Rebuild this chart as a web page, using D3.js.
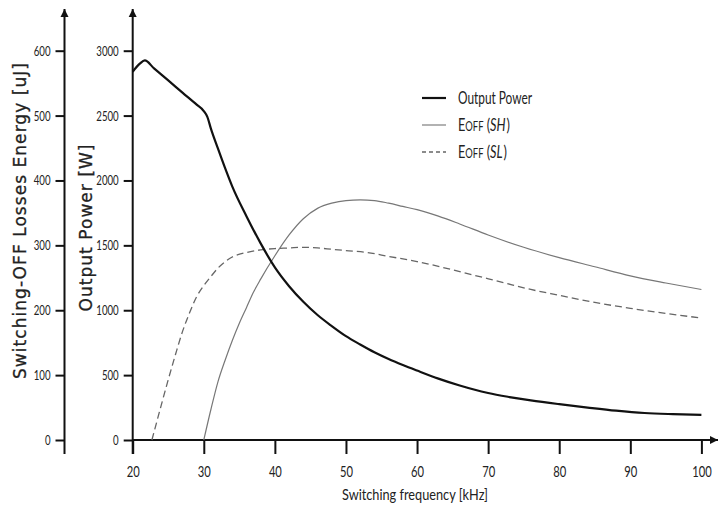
<!DOCTYPE html>
<html>
<head>
<meta charset="utf-8">
<script src="https://cdn.jsdelivr.net/npm/d3@7"></script>
<style>
  body { margin: 0; background: #fff; }
  .tick text { font-family: Lato, "Open Sans", sans-serif; fill: #222; }
  .tick line { stroke: #111; stroke-width: 2; }
</style>
</head>
<body>
<script>
// Switching frequency [kHz] samples and the curves
const powerFreq = [20, 21, 21.7, 23, 25, 27, 29, 30, 30.5, 31, 32, 33, 34, 36, 38, 40, 42, 44, 46, 48, 50, 52, 54, 56, 58, 60, 63, 66, 68, 70, 73, 76, 80, 84, 88, 92, 96, 100];
const powerW = [2838, 2900, 2925, 2864, 2771, 2677, 2584, 2535, 2490, 2400, 2245, 2095, 1955, 1725, 1515, 1330, 1185, 1065, 963, 878, 800, 736, 676, 624, 578, 535, 473, 420, 389, 362, 331, 305, 276, 250, 226, 208, 199, 193];

const shFreq = [30, 31, 32, 33, 34, 35, 36, 37, 38, 40, 42, 44, 46, 48, 50, 52, 54, 56, 58, 60, 63, 66, 70, 75, 80, 85, 90, 95, 100];
const shEnergy = [0, 47, 90, 123, 153, 180, 204, 228, 248, 284, 316, 341, 357, 365, 369, 370, 369, 365, 360, 355, 345, 333, 316, 297, 281, 267, 253, 242, 232];

const slFreq = [22.7, 24, 25, 26, 27, 28, 29, 30, 31, 32, 34, 36, 38, 40, 42, 44, 46, 48, 50, 53, 56, 60, 64, 68, 72, 76, 80, 85, 90, 95, 100];
const slEnergy = [0, 53, 93, 131, 167, 196, 221, 238, 252, 265, 282, 289, 293, 295, 296, 297, 296, 294, 292, 289, 283, 275, 265, 254, 243, 232, 223, 212, 203, 195, 188];

const freqTicks = [20, 30, 40, 50, 60, 70, 80, 90, 100];
const powerTicks = [0, 500, 1000, 1500, 2000, 2500, 3000];
const energyTicks = [0, 100, 200, 300, 400, 500, 600];

const width = 718;
const height = 508;
const axisX = { energy: 64.5, power: 132.7 };
const baseY = 440;

const x = d3.scaleLinear().domain([20, 100]).range([132.7, 701.4]);
const yPower = d3.scaleLinear().domain([0, 3000]).range([baseY, 50.7]);
const yEnergy = d3.scaleLinear().domain([0, 600]).range([baseY, 50.7]);

const svg = d3.select('body')
  .append('svg')
  .attr('width', width)
  .attr('height', height);

// arrow heads
svg.append('defs').append('marker')
  .attr('id', 'arrow')
  .attr('viewBox', '0 0 10 10')
  .attr('refX', 10)
  .attr('refY', 5)
  .attr('markerWidth', 8)
  .attr('markerHeight', 14)
  .attr('markerUnits', 'userSpaceOnUse')
  .attr('orient', 'auto')
  .append('path')
  .attr('d', 'M0,0 L10,5 L0,10 Z')
  .attr('fill', '#111');

// squeeze the labels to the narrow look of the original
function narrow(sel, perChar) {
  sel.each(function() {
    const t = d3.select(this);
    t.attr('textLength', t.text().length * perChar).attr('lengthAdjust', 'spacingAndGlyphs');
  });
}

// Energy axis (far left)
const energyAxis = svg.append('g')
  .attr('transform', 'translate(' + axisX.energy + ',0)')
  .call(d3.axisLeft(yEnergy).tickValues(energyTicks).tickFormat(d3.format('d')).tickSize(9).tickPadding(5));
energyAxis.select('.domain').remove();
energyAxis.selectAll('.tick text').attr('font-size', 14).call(narrow, 5.6);

svg.append('line')
  .attr('x1', axisX.energy).attr('x2', axisX.energy)
  .attr('y1', 454).attr('y2', 9)
  .attr('stroke', '#111').attr('stroke-width', 2)
  .attr('marker-end', 'url(#arrow)');

// Power axis
const powerAxis = svg.append('g')
  .attr('transform', 'translate(' + axisX.power + ',0)')
  .call(d3.axisLeft(yPower).tickValues(powerTicks).tickFormat(d3.format('d')).tickSize(9).tickPadding(5));
powerAxis.select('.domain').remove();
powerAxis.selectAll('.tick text').attr('font-size', 14).call(narrow, 5.6);

svg.append('line')
  .attr('x1', axisX.power).attr('x2', axisX.power)
  .attr('y1', 454).attr('y2', 9)
  .attr('stroke', '#111').attr('stroke-width', 2)
  .attr('marker-end', 'url(#arrow)');

// Frequency axis
const freqAxis = svg.append('g')
  .attr('transform', 'translate(0,' + baseY + ')')
  .call(d3.axisBottom(x).tickValues(freqTicks).tickSize(14));
freqAxis.select('.domain').remove();
freqAxis.selectAll('.tick text')
  .attr('font-size', 15)
  .attr('y', 37)
  .attr('dy', 0)
  .call(narrow, 6.5);

svg.append('line')
  .attr('x1', axisX.power).attr('x2', 718)
  .attr('y1', baseY).attr('y2', baseY)
  .attr('stroke', '#111').attr('stroke-width', 2.2)
  .attr('marker-end', 'url(#arrow)');

// Axis titles
svg.append('text')
  .attr('transform', 'translate(26,221) rotate(-90)')
  .attr('text-anchor', 'middle')
  .attr('font-family', 'DejaVu Sans, Verdana, sans-serif')
  .attr('font-size', 17)
  .attr('textLength', 316)
  .attr('fill', '#222')
  .attr('stroke', '#222')
  .attr('stroke-width', 0.3)
  .text('Switching-OFF Losses Energy [uJ]');

svg.append('text')
  .attr('transform', 'translate(92,228) rotate(-90)')
  .attr('text-anchor', 'middle')
  .attr('font-family', 'DejaVu Sans, Verdana, sans-serif')
  .attr('font-size', 17)
  .attr('textLength', 167)
  .attr('fill', '#222')
  .attr('stroke', '#222')
  .attr('stroke-width', 0.3)
  .text('Output Power [W]');

svg.append('text')
  .attr('x', 415)
  .attr('y', 500)
  .attr('text-anchor', 'middle')
  .attr('font-family', 'Lato, "Open Sans", sans-serif')
  .attr('font-size', 16)
  .attr('textLength', 146)
  .attr('lengthAdjust', 'spacingAndGlyphs')
  .attr('fill', '#222')
  .text('Switching frequency [kHz]');

// Curves
const powerLine = d3.line()
  .x(function(d, i) { return x(powerFreq[i]); })
  .y(function(d) { return yPower(d); })
  .curve(d3.curveMonotoneX);

const shLine = d3.line()
  .x(function(d, i) { return x(shFreq[i]); })
  .y(function(d) { return yEnergy(d); })
  .curve(d3.curveMonotoneX);

const slLine = d3.line()
  .x(function(d, i) { return x(slFreq[i]); })
  .y(function(d) { return yEnergy(d); })
  .curve(d3.curveMonotoneX);

svg.append('path')
  .attr('d', shLine(shEnergy))
  .attr('fill', 'none')
  .attr('stroke', '#777')
  .attr('stroke-width', 1.2);

svg.append('path')
  .attr('d', slLine(slEnergy))
  .attr('fill', 'none')
  .attr('stroke', '#666')
  .attr('stroke-width', 1.3)
  .attr('stroke-dasharray', '7,4');

svg.append('path')
  .attr('d', powerLine(powerW))
  .attr('fill', 'none')
  .attr('stroke', '#111')
  .attr('stroke-width', 2.2);

// Legend
const legend = svg.append('g')
  .attr('font-family', 'Lato, "Open Sans", sans-serif')
  .attr('fill', '#222');

const legendRows = [
  { y: 98, stroke: '#111', width: 2.2, dash: null },
  { y: 125, stroke: '#888', width: 1.3, dash: null },
  { y: 152, stroke: '#666', width: 1.3, dash: '4,3' }
];

legendRows.forEach(function(r) {
  legend.append('line')
    .attr('x1', 422).attr('x2', 446)
    .attr('y1', r.y).attr('y2', r.y)
    .attr('stroke', r.stroke)
    .attr('stroke-width', r.width)
    .attr('stroke-dasharray', r.dash);
});

legend.append('text')
  .attr('x', 458).attr('y', 104)
  .attr('font-size', 17)
  .attr('textLength', 74)
  .attr('lengthAdjust', 'spacingAndGlyphs')
  .text('Output Power');

['SH', 'SL'].forEach(function(s, i) {
  const t = legend.append('g')
    .attr('transform', 'translate(458,' + (131 + i * 27) + ') scale(0.75,1)')
    .append('text')
    .attr('font-size', 17);
  t.append('tspan').text('E');
  t.append('tspan').attr('font-size', 12.5).text('OFF');
  t.append('tspan').text(' (');
  t.append('tspan').attr('font-style', 'italic').text(s);
  t.append('tspan').attr('dx', 1).text(')');
});
</script>
</body>
</html>
